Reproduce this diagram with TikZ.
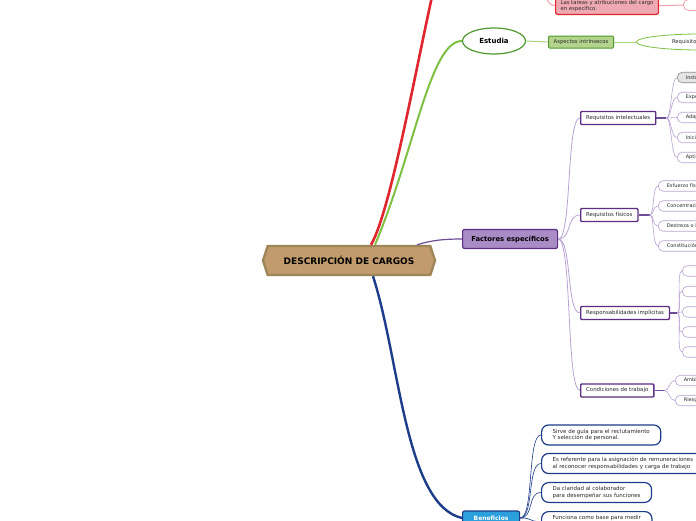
\documentclass[tikz,border=0pt]{standalone}
\usepackage{fontspec}
\setmainfont{DejaVu Sans}
\usepackage{tikz}
\usetikzlibrary{positioning,shapes.geometric,shapes.symbols}
\definecolor{mapsand}{HTML}{C29B6C}
\definecolor{mapsandedge}{HTML}{9F855A}
\definecolor{mapred}{HTML}{E0262F}
\definecolor{mappink}{HTML}{EFA9B2}
\definecolor{mappinkline}{HTML}{F2A3AD}
\definecolor{mapgreen}{HTML}{7DC043}
\definecolor{mapgreendark}{HTML}{4E9A2E}
\definecolor{mapgreenfill}{HTML}{B4D38C}
\definecolor{mapgreenthin}{HTML}{A8D47E}
\definecolor{mappurple}{HTML}{5C2E84}
\definecolor{mappurplefill}{HTML}{A98BC6}
\definecolor{mappurpleline}{HTML}{6D4E96}
\definecolor{maplilac}{HTML}{B9A3D2}
\definecolor{mapnavy}{HTML}{1D3C8A}
\definecolor{mapsky}{HTML}{2BA0DC}
\definecolor{maptext}{HTML}{2A2A2A}
\tikzset{
  rootbox/.style={
    signal, signal to=west and east, signal pointer angle=144,
    draw=mapsandedge, line width=2.4pt, fill=mapsand,
    minimum width=172pt, minimum height=29pt, inner sep=0pt,
    font=\fontsize{9}{10}\selectfont\bfseries
  },
  mainbox/.style={
    rounded corners=2pt, draw=mappurple, fill=mappurplefill,
    line width=1.2pt, minimum width=95pt, minimum height=19pt,
    inner sep=0pt, font=\fontsize{6.8}{8}\selectfont\bfseries
  },
  reqbox/.style={
    rounded corners=1pt, draw=mappurple, fill=white, text=maptext,
    line width=1.4pt, minimum height=13pt, inner xsep=5.5pt,
    inner ysep=0pt, font=\fontsize{5.4}{6}\selectfont
  },
  leafbox/.style={
    rounded corners=5pt, draw=maplilac, fill=white, text=maptext,
    line width=0.6pt, minimum height=10.5pt, text width=60pt,
    align=left, inner xsep=8.5pt, inner ysep=0pt,
    font=\fontsize{5}{6}\selectfont
  },
  studybox/.style={
    ellipse, draw=mapgreendark, fill=white, line width=1.2pt,
    minimum width=63pt, minimum height=26pt, inner sep=0pt,
    font=\fontsize{7}{8}\selectfont\bfseries
  },
  greenbox/.style={
    rounded corners=1pt, draw=mapgreendark, fill=mapgreenfill,
    line width=1pt, minimum width=65pt, minimum height=12pt,
    inner sep=0pt, text=maptext, font=\fontsize{5.3}{6}\selectfont
  },
  greenoval/.style={
    ellipse, draw=mapgreen, fill=white, line width=0.8pt,
    minimum width=128pt, minimum height=16pt, inner sep=0pt,
    text=maptext, font=\fontsize{5.3}{6}\selectfont
  },
  tareabox/.style={
    rounded corners=2pt, draw=mapred, fill=mappink, line width=1.2pt,
    align=left, inner xsep=5pt, inner ysep=3pt, text=maptext,
    font=\fontsize{5.3}{6.2}\selectfont
  },
  pinkpill/.style={
    rounded corners=5pt, draw=mappinkline, fill=white, line width=0.8pt,
    minimum width=60pt, minimum height=11pt, inner sep=0pt,
    font=\fontsize{5}{6}\selectfont
  },
  skybox/.style={
    rounded corners=2pt, draw=mapnavy, fill=mapsky, line width=1.2pt,
    minimum width=57pt, minimum height=14pt, inner sep=0pt, text=white,
    font=\fontsize{6}{7}\selectfont\bfseries
  },
  benbox/.style={
    rounded corners=7pt, draw=mapnavy, fill=white, line width=1.2pt,
    align=left, inner xsep=11pt, inner ysep=4pt, text=maptext,
    font=\fontsize{5.5}{6.5}\selectfont
  },
  redline/.style={draw=mapred, line width=2.6pt},
  greenline/.style={draw=mapgreen, line width=2pt},
  navyline/.style={draw=mapnavy, line width=2.4pt},
  purpleline/.style={draw=mappurpleline, line width=1.2pt},
  lilacline/.style={draw=maplilac, line width=0.6pt},
  greenthin/.style={draw=mapgreenthin, line width=1pt},
  pinkline/.style={draw=mappinkline, line width=1pt},
  navythin/.style={draw=mapnavy, line width=0.6pt}
}

\begin{document}
\begin{tikzpicture}[x=1pt, y=-1pt]
\useasboundingbox (0,0) rectangle (696,520);
\clip (0,0) rectangle (696,520);
\fill[white] (0,0) rectangle (696,520);

% centre
\node[rootbox] (desc) at (349,260.5) {DESCRIPCIÓN DE CARGOS};

% red branch, its root lies above the page
\coordinate (tareasroot) at (433,-8);
\coordinate (tareasjoin) at (546,-10);
\node[tareabox, anchor=south west] (tareas) at (555,15) {Las tareas y atribuciones del cargo\\en específico.};
\node[pinkpill, anchor=west] (quehace) at (683,5) {\hspace*{16pt}Qué hace};

% green branch
\node[studybox] (estudia) at (494,41) {Estudia};
\node[greenbox, anchor=west] (intrinsecos) at (548,42) {Aspectos intrínsecos};
\node[greenoval, anchor=west] (requisitos) at (636,42) {Requisitos del puesto};

% purple branch
\node[mainbox, anchor=west] (factores) at (462,239) {Factores específicos};
\node[reqbox, anchor=west] (intelectuales) at (580,118) {Requisitos intelectuales};
\node[reqbox, anchor=west] (fisicos) at (580,215) {Requisitos físicos};
\node[reqbox, anchor=west] (responsabilidades) at (580,313) {Responsabilidades implícitas};
\node[reqbox, anchor=west] (condiciones) at (580,390.5) {Condiciones de trabajo};

\node[leafbox, anchor=west, fill=black!10, draw=black!45] (instruccion) at (677,77.5) {Instrucción básica};
\node[leafbox, anchor=west] (experiencia) at (677,97.5) {Experiencia};
\node[leafbox, anchor=west] (adaptabilidad) at (677,117.5) {Adaptabilidad};
\node[leafbox, anchor=west] (iniciativa) at (677,137.5) {Iniciativa};
\node[leafbox, anchor=west] (aptitudes) at (677,157.5) {Aptitudes};

\node[leafbox, anchor=west] (esfuerzo) at (658,186) {Esfuerzo físico};
\node[leafbox, anchor=west] (concentracion) at (658,206) {Concentración visual};
\node[leafbox, anchor=west] (destreza) at (658,226) {Destreza o habilidad};
\node[leafbox, anchor=west] (constitucion) at (658,246) {Constitución física};

\node[leafbox, anchor=west] (respa) at (682,271) {};
\node[leafbox, anchor=west] (respb) at (682,291.5) {};
\node[leafbox, anchor=west] (respc) at (682,312) {};
\node[leafbox, anchor=west] (respd) at (682,332) {};
\node[leafbox, anchor=west] (respe) at (682,352) {};

\node[leafbox, anchor=west] (ambiente) at (675,380.5) {Ambiente de trabajo};
\node[leafbox, anchor=west] (riesgos) at (675,400.5) {Riesgos};

% blue branch
\node[skybox, anchor=west] (beneficios) at (462,518) {Beneficios};
\node[benbox, anchor=west] (guia) at (541,435) {Sirve de guía para el reclutamiento\\Y selección de personal.};
\node[benbox, anchor=west] (remuneraciones) at (541,463.5) {Es referente para la asignación de remuneraciones\\al reconocer responsabilidades y carga de trabajo};
\node[benbox, anchor=west] (claridad) at (541,492.5) {Da claridad al colaborador\\para desempeñar sus funciones};
\node[benbox, anchor=north west] (medicion) at (541,511) {Funciona como base para medir\\el desempeño.};

% main branches
\draw[redline] ([xshift=22pt]desc.north) .. controls (390,212) and (414,78) .. (tareasroot);
\draw[greenline] ([xshift=26pt]desc.north) .. controls (415,150) and (430,41) .. (estudia.west);
\draw[purpleline] ([xshift=68pt]desc.north) .. controls +(16,-5) and +(-16,0) .. (factores.west);
\draw[navyline] ([xshift=24pt]desc.south) .. controls (400,360) and (405,505) .. (beneficios.west);

% red details
\draw[pinkline] (tareasjoin) .. controls +(0,10) and +(-6,0) .. (tareas.west);
\draw[pinkline] (tareas.east) -- (quehace.west);

% green details
\draw[greenthin] (estudia.east) -- (intrinsecos.west);
\draw[greenthin] (intrinsecos.east) -- (requisitos.west);

% purple details
\draw[purpleline, draw=maplilac, line width=0.8pt] (factores.east) .. controls +(14,0) and +(-14,0) .. (intelectuales.west);
\draw[purpleline, draw=maplilac, line width=0.8pt] (factores.east) .. controls +(14,0) and +(-14,0) .. (fisicos.west);
\draw[purpleline, draw=maplilac, line width=0.8pt] (factores.east) .. controls +(14,0) and +(-14,0) .. (responsabilidades.west);
\draw[purpleline, draw=maplilac, line width=0.8pt] (factores.east) .. controls +(14,0) and +(-14,0) .. (condiciones.west);

\draw[purpleline] (intelectuales.east) -- ++(10,0) coordinate (intj);
\draw[lilacline] (intj) .. controls +(5,0) and +(-6,0) .. (instruccion.west);
\draw[lilacline] (intj) .. controls +(5,0) and +(-6,0) .. (experiencia.west);
\draw[lilacline] (intj) -- (adaptabilidad.west);
\draw[lilacline] (intj) .. controls +(5,0) and +(-6,0) .. (iniciativa.west);
\draw[lilacline] (intj) .. controls +(5,0) and +(-6,0) .. (aptitudes.west);

\draw[purpleline] (fisicos.east) -- ++(11,0) coordinate (fisj);
\draw[lilacline] (fisj) .. controls +(5,0) and +(-6,0) .. (esfuerzo.west);
\draw[lilacline] (fisj) .. controls +(5,0) and +(-6,0) .. (concentracion.west);
\draw[lilacline] (fisj) .. controls +(5,0) and +(-6,0) .. (destreza.west);
\draw[lilacline] (fisj) .. controls +(5,0) and +(-6,0) .. (constitucion.west);

\draw[purpleline] (responsabilidades.east) -- ++(7,0) coordinate (resj);
\draw[lilacline] (resj) .. controls +(5,0) and +(-6,0) .. (respa.west);
\draw[lilacline] (resj) .. controls +(5,0) and +(-6,0) .. (respb.west);
\draw[lilacline] (resj) .. controls +(5,0) and +(-6,0) .. (respc.west);
\draw[lilacline] (resj) .. controls +(5,0) and +(-6,0) .. (respd.west);
\draw[lilacline] (resj) .. controls +(5,0) and +(-6,0) .. (respe.west);

\draw[purpleline] (condiciones.east) -- ++(10,0) coordinate (conj);
\draw[lilacline] (conj) .. controls +(5,0) and +(-6,0) .. (ambiente.west);
\draw[lilacline] (conj) .. controls +(5,0) and +(-6,0) .. (riesgos.west);

% blue details
\draw[navythin] (beneficios.east) .. controls +(14,0) and +(-14,0) .. (guia.west);
\draw[navythin] (beneficios.east) .. controls +(14,0) and +(-14,0) .. (remuneraciones.west);
\draw[navythin] (beneficios.east) .. controls +(14,0) and +(-14,0) .. (claridad.west);
\draw[navythin] (beneficios.east) .. controls +(14,0) and +(-14,0) .. (medicion.west);
\end{tikzpicture}
\end{document}
